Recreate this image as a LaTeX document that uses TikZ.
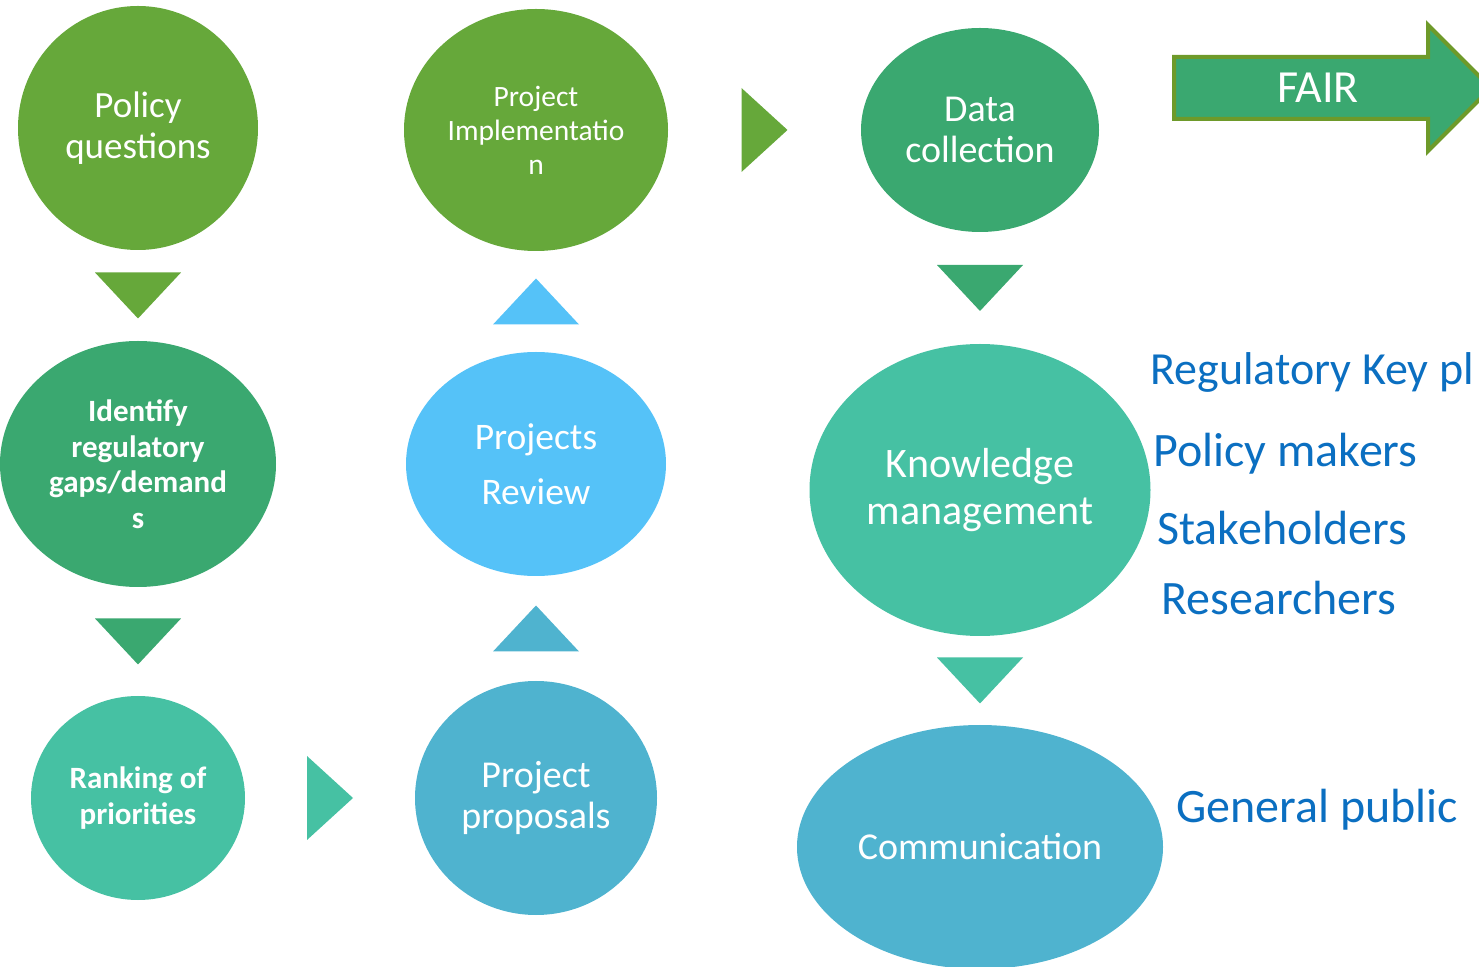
\documentclass[tikz,border=0pt]{standalone}
\usepackage{fontspec}
\setmainfont{Carlito}
\usepackage{tikz}
\usetikzlibrary{shapes,calc}
\definecolor{leaf}{HTML}{66A83A}
\definecolor{moss}{HTML}{3AA870}
\definecolor{mint}{HTML}{46C1A3}
\definecolor{sea}{HTML}{4FB3CF}
\definecolor{sky}{HTML}{55C2F8}
\definecolor{ink}{HTML}{0B6FC1}
\definecolor{rim}{HTML}{6E9A2A}
\tikzstyle{bubble} = [ellipse, inner sep=0pt, align=center, text=white]
\tikzstyle{who} = [anchor=base west, inner sep=0pt, text=ink,
                   font=\fontsize{24}{28}\selectfont]

\begin{document}
\begin{tikzpicture}[x=0.5pt, y=-0.5pt,
tdown/.pic={\path[pic actions] (-43,-23) -- (43,-23) -- (0,23) -- cycle;},
tup/.pic={\path[pic actions] (-43,23) -- (43,23) -- (0,-23) -- cycle;},
tright/.pic={\path[pic actions] (-23,-42) -- (-23,42) -- (23,0) -- cycle;}]
\useasboundingbox (0,0) rectangle (1479,967);
\clip (0,0) rectangle (1479,967);

%Left column
\node[bubble, fill=leaf, minimum width=120pt, minimum height=122pt,
      font=\fontsize{18.5}{20.5}\selectfont] (pq) at (138,128) {Policy\\questions};
\node[bubble, fill=moss, minimum width=138pt, minimum height=123pt,
      font=\bfseries\fontsize{15.5}{17.75}\selectfont] (ig) at (138,464) {Identify\\regulatory\\gaps/demand\\s};
\node[bubble, fill=mint, minimum width=107pt, minimum height=102pt,
      font=\bfseries\fontsize{15.5}{18}\selectfont] (rp) at (138,798) {Ranking of\\priorities};

%Middle column
\node[bubble, fill=sea, minimum width=121pt, minimum height=117pt,
      font=\fontsize{19}{20.5}\selectfont] (pp) at (536,798) {Project\\proposals};
\node[bubble, fill=sky, minimum width=130pt, minimum height=112pt,
      font=\fontsize{18.75}{27.5}\selectfont] (pr) at (536,464) {Projects\\Review};
\node[bubble, fill=leaf, minimum width=132pt, minimum height=121pt,
      font=\fontsize{14.75}{17}\selectfont] (pi) at (536,130) {Project\\Implementatio\\n};

%Right column
\node[bubble, fill=moss, minimum width=119pt, minimum height=102pt,
      font=\fontsize{19}{20.5}\selectfont] (dc) at (980,130) {Data\\collection};
\node[bubble, fill=mint, minimum width=170.5pt, minimum height=146pt,
      font=\fontsize{21}{23.5}\selectfont] (km) at (980,490) {Knowledge\\management};
\node[bubble, fill=sea, minimum width=183pt, minimum height=122pt,
      font=\fontsize{19}{23}\selectfont] (cm) at (980,847) {Communication};

% Triangles
\pic[fill=leaf] at ($(pq.south)!.5!(ig.north)$) {tdown};
\pic[fill=moss] at ($(ig.south)!.5!(rp.north)$) {tdown};
\pic[fill=mint] at ($(rp.east)!.5!(pp.west)$) {tright};
\pic[fill=sea] at ($(pp.north)!.5!(pr.south)$) {tup};
\pic[fill=sky] at ($(pr.north)!.5!(pi.south)$) {tup};
\pic[fill=leaf] at ($(pi.east)!.5!(dc.west)$) {tright};
\pic[fill=moss] at ($(dc.south)!.5!(km.north)$) {tdown};
\pic[fill=mint] at ($(km.south)!.5!(cm.north)$) {tdown};

% FAIR
\draw[draw=rim, fill=moss, line width=2pt] (1174,57) -- (1428,57) -- (1428,25) -- (1491,88)
  -- (1428,151) -- (1428,119) -- (1174,119) -- cycle;
\node[text=white, font=\fontsize{23}{27}\selectfont] (fair) at (1318,88) {FAIR};

% Audiences
\node[who, font=\fontsize{23}{27}\selectfont] (kp) at (1150,385) {Regulatory Key pl};
\node[who] (pm) at (1153,467) {Policy makers};
\node[who] (sh) at (1157,545) {Stakeholders};
\node[who] (rs) at (1161,615) {Researchers};
\node[who] (gp) at (1176,823) {General public};
\end{tikzpicture}
\end{document}
